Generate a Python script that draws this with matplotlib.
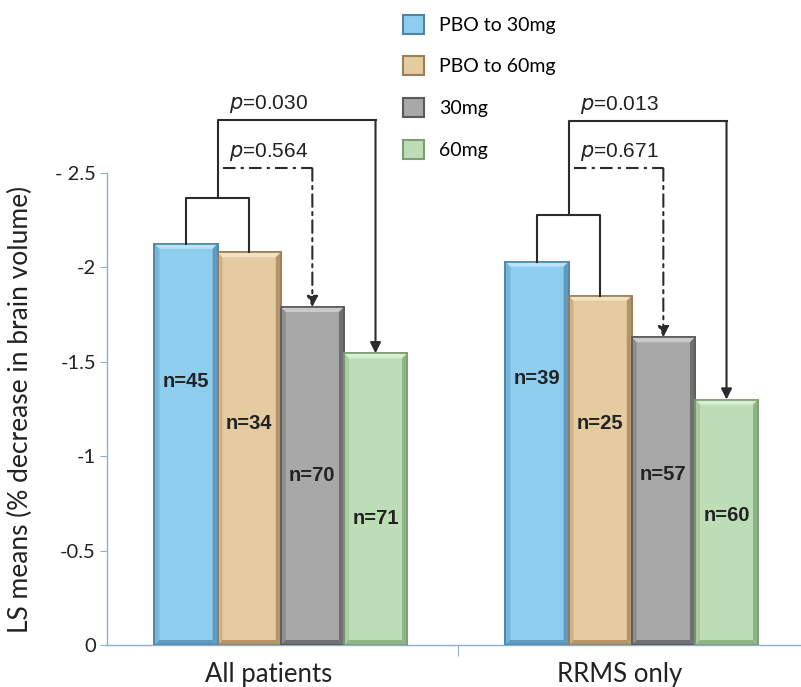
import matplotlib
matplotlib.use("Agg")
import matplotlib.pyplot as plt
from matplotlib.patches import Patch, Polygon
import matplotlib.transforms as mtransforms
import numpy as np

# ---- data ----
groups = ["All patients", "RRMS only"]
series = ["PBO to 30mg", "PBO to 60mg", "30mg", "60mg"]
values = {
    "PBO to 30mg": [-2.125, -2.03],
    "PBO to 60mg": [-2.08, -1.85],
    "30mg": [-1.79, -1.63],
    "60mg": [-1.545, -1.30],
}
n_labels = {
    "PBO to 30mg": ["n=45", "n=39"],
    "PBO to 60mg": ["n=34", "n=25"],
    "30mg": ["n=70", "n=57"],
    "60mg": ["n=71", "n=60"],
}
p_solid = ["p=0.030", "p=0.013"]     # PBO vs 60mg
p_dash = ["p=0.564", "p=0.671"]      # PBO vs 30mg
yticks = [0, -0.5, -1, -1.5, -2, -2.5]
yticklabels = ["0", "-0.5", "-1", "-1.5", "-2", "- 2.5"]

# ---- styles / positions ----
face = ["#8ECDEE", "#E4CBA0", "#A8A8A8", "#BCDDB5"]
edge = ["#4F86A8", "#9A7F58", "#5A5A5A", "#7D9E74"]
light = ["#B9E2F7", "#F3E1C2", "#CACACA", "#D8EDD2"]
dark = ["#5F9BC0", "#B2956B", "#707070", "#8FB387"]
label_y = [[-1.395, -1.41], [-1.173, -1.173], [-0.90, -0.904], [-0.671, -0.687]]
low_br = [-2.37, -2.28]
hi_br = [-2.78, -2.775]
mid_br = [-2.525, -2.525]

fig = plt.figure(figsize=(8.01, 6.87), dpi=100)
ax_left, ax_right = 107 / 801, 800 / 801
ax_bottom, ax_top = (687 - 645) / 687, (687 - 173) / 687
ax = fig.add_axes([ax_left, ax_bottom, ax_right - ax_left, ax_top - ax_bottom])

xmax = 693 / 351
ax.set_xlim(0, xmax)
ax.set_ylim(0, -2.5)

bw = 0.18
offsets = np.array([-1.5, -0.5, 0.5, 1.5]) * bw
centers = np.array([0.5, 1.5])

px_x = xmax / 693
px_y = 2.5 / 472
bx, by = 5 * px_x, 5 * px_y

bar_tops = {}
for i, s in enumerate(series):
    xs = centers + offsets[i] - 0.005
    vals = values[s]
    ax.bar(xs, vals, width=bw, color=face[i], edgecolor=edge[i], linewidth=1.2, zorder=2)
    for j, (x, v) in enumerate(zip(xs, vals)):
        l, r = x - bw / 2, x + bw / 2
        ax.add_patch(Polygon([(l, v), (r, v), (r - bx, v + by), (l + bx, v + by)],
                             closed=True, facecolor=light[i], edgecolor="none", zorder=3))
        ax.add_patch(Polygon([(l, v), (l + bx, v + by), (l + bx, 0 - by), (l, 0)],
                             closed=True, facecolor=dark[i], edgecolor="none", alpha=0.45, zorder=3))
        ax.add_patch(Polygon([(r, v), (r - bx, v + by), (r - bx, 0 - by), (r, 0)],
                             closed=True, facecolor=dark[i], edgecolor="none", zorder=3))
        ax.add_patch(Polygon([(l, 0), (r, 0), (r - bx, -by), (l + bx, -by)],
                             closed=True, facecolor=dark[i], edgecolor="none", zorder=3))
        ax.add_patch(plt.Rectangle((l, v), bw, -v, fill=False, edgecolor=edge[i], linewidth=1.2, zorder=4))
        ax.text(x, label_y[i][j], n_labels[s][j], ha="center", va="center",
                fontsize=14.5, fontweight="bold", family="Liberation Sans", color="#222222", zorder=5)
        bar_tops[(i, j)] = (x, v)

# ---- brackets ----
lc = "#2b2b2b"
dashdot = (0, (6, 2.5, 1.5, 2.5))
for j in range(2):
    x0, v0 = bar_tops[(0, j)]
    x1, v1 = bar_tops[(1, j)]
    x2, v2 = bar_tops[(2, j)]
    x3, v3 = bar_tops[(3, j)]
    yb = low_br[j]
    ax.plot([x0, x0, x1, x1], [v0, yb, yb, v1], color=lc, lw=1.5, clip_on=False, zorder=6)
    xm = (x0 + x1) / 2
    ax.plot([xm, xm, x3], [yb, hi_br[j], hi_br[j]], color=lc, lw=1.5, clip_on=False, zorder=6)
    ax.annotate("", xy=(x3, v3), xytext=(x3, hi_br[j]),
                arrowprops=dict(arrowstyle="-|>", color=lc, lw=1.5, mutation_scale=16,
                                shrinkA=0, shrinkB=0), annotation_clip=False, zorder=6)
    ax.plot([xm + 5 * px_x, x2], [mid_br[j], mid_br[j]], color=lc, lw=1.5, ls=dashdot,
            clip_on=False, zorder=6)
    ax.annotate("", xy=(x2, v2), xytext=(x2, mid_br[j]),
                arrowprops=dict(arrowstyle="-|>", color=lc, lw=1.5, mutation_scale=16,
                                linestyle=dashdot, shrinkA=0, shrinkB=0),
                annotation_clip=False, zorder=6)
    for txt, yy in ((p_solid[j], hi_br[j]), (p_dash[j], mid_br[j])):
        ax.text(xm + 11 * px_x, yy - 5 * px_y, "$\\it{p}$" + txt[1:], ha="left", va="bottom",
                fontsize=15, family="Liberation Sans", color="#222222", clip_on=False)

# ---- axes styling ----
spc = "#8FB0C8"
for side in ("top", "right"):
    ax.spines[side].set_visible(False)
for side in ("left", "bottom"):
    ax.spines[side].set_color(spc)
    ax.spines[side].set_linewidth(1.0)
ax.set_yticks(yticks)
ax.set_yticklabels(yticklabels, fontsize=14.5, family="Lato", color="#222222")
ax.tick_params(axis="y", length=5, color=spc, pad=3)
ax.set_xticks([1.0])
ax.set_xticklabels([""])
ax.tick_params(axis="x", length=8, color=spc, direction="out")
trans = mtransforms.blended_transform_factory(ax.transData, ax.transAxes)
for j, g in enumerate(groups):
    ax.text(centers[j] - 0.04, -37 / 472, g, ha="center", va="baseline", fontsize=18.5,
            family="Lato", color="#222222", transform=trans, clip_on=False)
ax.set_ylabel("LS means (% decrease in brain volume)", fontsize=19, family="Lato",
              color="#222222", labelpad=16)

# ---- legend ----
handles = [Patch(facecolor=face[i], edgecolor=edge[i], linewidth=1.5) for i in range(4)]
fig.legend(handles, series, loc="upper left", bbox_to_anchor=(385 / 801, 1 + 3 / 687),
           frameon=False, handlelength=1.13, handleheight=1.13,
           labelspacing=1.17, handletextpad=0.75, prop={"family": "Lato", "size": 14})

fig.savefig("out.png", dpi=100)
